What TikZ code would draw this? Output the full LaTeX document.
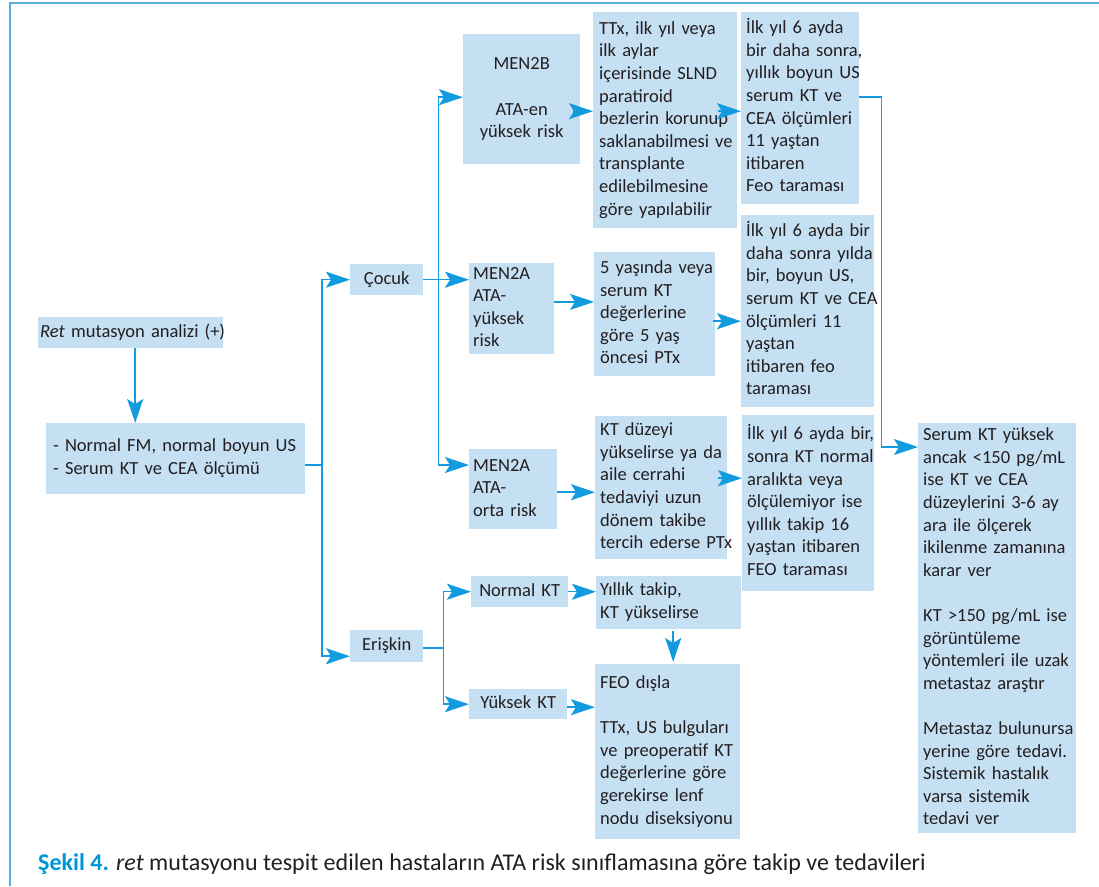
\documentclass[tikz,border=0pt]{standalone}
\usepackage{fontspec}
\setmainfont{Carlito}
\usetikzlibrary{arrows.meta,calc}
\definecolor{boxfill}{RGB}{197,223,243}
\definecolor{arrowblue}{RGB}{18,155,222}
\definecolor{framec}{RGB}{90,172,222}
\definecolor{txt}{RGB}{35,31,32}
\definecolor{capblue}{RGB}{0,150,214}
\newcommand{\boxlines}[1]{\begin{tabular}{@{}l@{}}#1\end{tabular}}
\newcommand{\boxlinesc}[1]{\begin{tabular}{@{}c@{}}#1\end{tabular}}
\tikzset{
  box/.style={fill=boxfill, text=txt, inner ysep=0pt, anchor=north west,
    font=\fontsize{18.5}{22.6}\selectfont, align=left},
  cbox/.style={box, align=center},
  ln/.style={draw=arrowblue, line width=1.5pt},
  arr/.style={ln, -{Stealth[length=24pt,width=16pt,inset=5pt]}},
  framestyle/.style={draw=framec, line width=1.6pt}
}
\begin{document}
\begin{tikzpicture}[x=1pt,y=-1pt]
\useasboundingbox (0,0) rectangle (1099,886);
\draw[framestyle] (10,886) -- (10,3) -- (1099,3);

% boxes
\node[box, inner xsep=2pt, minimum width=185pt, text width=181pt, minimum height=31pt] (ret) at (38,317)
  {\boxlines{\textit{Ret} mutasyon analizi (+)}};
\node[box, inner xsep=7pt, minimum width=259pt, text width=245pt, minimum height=71pt] (normal) at (46,423)
  {\boxlines{- Normal FM, normal boyun US\\- Serum KT ve CEA ölçümü}};
\node[cbox, inner xsep=2pt, minimum width=73pt, text width=69pt, minimum height=31pt] (cocuk) at (350,264)
  {\boxlinesc{Çocuk}};
\node[cbox, inner xsep=2pt, minimum width=73pt, text width=69pt, minimum height=32pt] (eriskin) at (350,630)
  {\boxlinesc{Erişkin}};
\node[cbox, inner xsep=2pt, minimum width=117pt, text width=113pt, minimum height=130pt] (men2b) at (463,34)
  {\boxlinesc{MEN2B\\ \\ATA-en\\yüksek risk}};
\node[box, inner xsep=4pt, minimum width=85pt, text width=77pt, minimum height=89pt] (men2ah) at (469,263)
  {\boxlines{MEN2A\\ATA-\\yüksek\\risk}};
\node[box, inner xsep=4pt, minimum width=88pt, text width=80pt, minimum height=80pt] (men2am) at (469,449)
  {\boxlines{MEN2A\\ATA-\\orta risk}};
\node[box, inner xsep=6pt, minimum width=144pt, text width=132pt, minimum height=216pt] (ttx) at (593,12)
  {\boxlines{TTx, ilk yıl veya\\ilk aylar\\içerisinde SLND\\paratiroid\\bezlerin korunup\\saklanabilmesi ve\\transplante\\edilebilmesine\\göre yapılabilir}};
\node[box, inner xsep=5pt, minimum width=118pt, text width=108pt, minimum height=192pt] (b1) at (741,12)
  {\boxlines{İlk yıl 6 ayda\\bir daha sonra,\\yıllık boyun US\\serum KT ve\\CEA ölçümleri\\11 yaştan\\itibaren\\Feo taraması}};
\node[box, inner xsep=6pt, minimum width=121pt, text width=109pt, minimum height=124pt] (b2) at (594,252)
  {\boxlines{5 yaşında veya\\serum KT\\değerlerine\\göre 5 yaş\\öncesi PTx}};
\node[box, inner xsep=5pt, minimum width=133pt, text width=123pt, minimum height=192pt] (b3) at (741,215)
  {\boxlines{İlk yıl 6 ayda bir\\daha sonra yılda\\bir, boyun US,\\serum KT ve CEA\\ölçümleri 11\\yaştan\\itibaren feo\\taraması}};
\node[box, inner xsep=5pt, minimum width=132pt, text width=122pt, minimum height=143pt] (b4) at (595,416)
  {\boxlines{KT düzeyi\\yükselirse ya da\\aile cerrahi\\tedaviyi uzun\\dönem takibe\\tercih ederse PTx}};
\node[box, inner xsep=5pt, minimum width=132pt, text width=122pt, minimum height=176pt] (b5) at (742,415)
  {\boxlines{İlk yıl 6 ayda bir,\\sonra KT normal\\aralıkta veya\\ölçülemiyor ise\\yıllık takip 16\\yaştan itibaren\\FEO taraması}};
\node[box, inner xsep=5pt, minimum width=158pt, text width=148pt, minimum height=410pt] (final) at (918,423)
  {\boxlines{Serum KT yüksek\\ancak <150 pg/mL\\ise KT ve CEA\\düzeylerini 3-6 ay\\ara ile ölçerek\\ikilenme zamanına\\karar ver\\ \\KT >150 pg/mL ise\\görüntüleme\\yöntemleri ile uzak\\metastaz araştır\\ \\Metastaz bulunursa\\yerine göre tedavi.\\Sistemik hastalık\\varsa sistemik\\tedavi ver}};
\node[cbox, inner xsep=2pt, minimum width=97pt, text width=93pt, minimum height=31pt] (normalkt) at (471,576)
  {\boxlinesc{Normal KT}};
\node[cbox, inner xsep=2pt, minimum width=98pt, text width=94pt, minimum height=30pt] (yuksekkt) at (469,689)
  {\boxlinesc{Yüksek KT}};
\node[box, inner xsep=4pt, minimum width=145pt, text width=137pt, minimum height=53pt] (yillik) at (596,576)
  {\boxlines{Yıllık takip,\\KT yükselirse}};
\node[box, inner xsep=5pt, minimum width=145pt, text width=135pt, minimum height=175pt] (feo) at (595,664)
  {\boxlines{FEO dışla\\ \\TTx, US bulguları\\ve preoperatif KT\\değerlerine göre\\gerekirse lenf\\nodu diseksiyonu}};

% connectors
\coordinate (r0) at ($(ret.south)+(4.5,0)$);
\draw[arr] (r0) -- (r0 |- normal.north);

\coordinate (j1) at (322,465);
\draw[ln] (normal.east |- j1) -- (j1);
\draw[arr] (j1) |- (cocuk.west);
\coordinate (e0) at ($(eriskin.west)+(0,10)$);
\draw[arr] (j1) |- (e0);

\coordinate (j2) at ($(cocuk.east)+(15,0)$);
\draw[ln] (cocuk.east) -- (j2);
\coordinate (m0) at ($(men2b.west)+(0,-2)$);
\draw[arr] (j2) |- (m0);
\draw[arr] (j2) -- (j2 -| men2ah.west);
\coordinate (m1) at ($(men2am.north west)+(0,16)$);
\draw[arr] (j2) |- (m1);

\coordinate (a1) at ($(men2b.east)+(-7,12)$);
\draw[arr] (a1) -- (a1 -| ttx.west);
\coordinate (a2) at ($(ttx.east)+(-19,-9)$);
\draw[arr] (a2) -- (a2 -| b1.west);
\coordinate (a3) at ($(men2ah.east)+(0,-6.5)$);
\draw[arr] (a3) -- (a3 -| b2.west);
\coordinate (a4) at ($(b2.east)+(-2,7)$);
\draw[arr] (a4) -- (a4 -| b3.west);
\coordinate (a5) at ($(men2am.east)+(0,3)$);
\draw[arr] (a5) -- (a5 -| b4.west);
\coordinate (a6) at ($(b4.east)+(-9,-9.5)$);
\draw[arr] (a6) -- (a6 -| b5.west);

\coordinate (c1) at ($(b1.east)+(0,-11)$);
\coordinate (c2) at ($(final.north west)+(0,24)$);
\draw[arr] (c1) -- ++(22,0) |- (c2);

\coordinate (j3) at ($(eriskin.east)+(20,2)$);
\draw[ln] (eriskin.east |- j3) -- (j3);
\draw[arr] (j3) |- (normalkt.west);
\draw[arr] (j3) |- (yuksekkt.west);
\draw[arr] (normalkt.east) -- (normalkt.east -| yillik.west);
\coordinate (y0) at ($(yillik.south)+(4.5,2)$);
\draw[arr] (y0) -- ($(y0 |- feo.north)+(0,-2)$);
\coordinate (y1) at ($(yuksekkt.east)+(0,3)$);
\draw[arr] (y1) -- (y1 -| feo.west);

% caption
\node[anchor=base west, inner sep=0pt, text=txt, font=\fontsize{24}{28}\selectfont] (cap) at (38,870)
  {\textcolor{capblue}{\textbf{Şekil 4.}} \textit{ret} mutasyonu tespit edilen hastaların ATA risk sınıflamasına göre takip ve tedavileri};
\end{tikzpicture}
\end{document}
